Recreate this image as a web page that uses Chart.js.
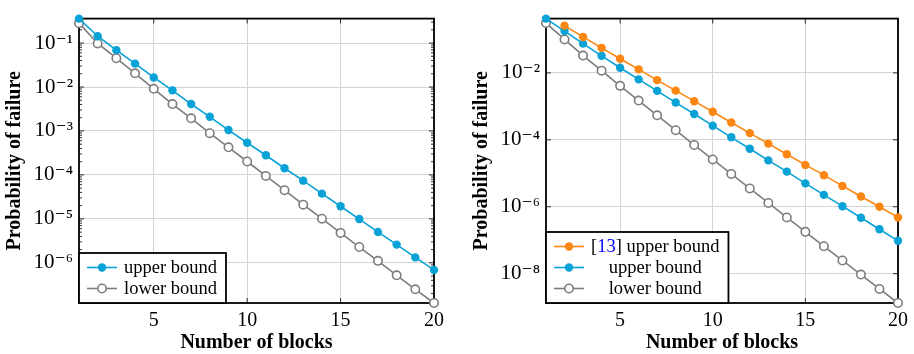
<!DOCTYPE html>
<html>
<head>
<meta charset="utf-8">
<script src="https://cdn.jsdelivr.net/npm/chart.js@4.4.1/dist/chart.umd.min.js"></script>
<style>
  html, body { margin: 0; padding: 0; background: #fff; }
  #wrap { position: relative; width: 914px; height: 354px; }
  .box { position: absolute; top: 0; width: 457px; height: 354px; }
</style>
</head>
<body>
<div id="wrap">
  <div class="box" style="left:0"><canvas id="leftChart"></canvas></div>
  <div class="box" style="left:457px"><canvas id="rightChart"></canvas></div>
</div>
<script>
// number of blocks on the x axis
const blocks = [1, 2, 3, 4, 5, 6, 7, 8, 9, 10, 11, 12, 13, 14, 15, 16, 17, 18, 19, 20];
const xTicks = [5, 10, 15, 20];

// left panel
const leftUpper = [0.36, 0.143, 0.069, 0.034, 0.0165, 0.0084, 0.0041, 0.0021, 0.00105, 5.4e-4,
  2.8e-4, 1.42e-4, 7.4e-5, 3.75e-5, 1.94e-5, 9.9e-6, 5.05e-6, 2.6e-6, 1.33e-6, 6.9e-7];
const leftLower = [0.284, 0.098, 0.0453, 0.0205, 0.0091, 0.0041, 0.00194, 8.9e-4, 4.25e-4, 2.02e-4,
  9.5e-5, 4.5e-5, 2.11e-5, 1.01e-5, 4.8e-6, 2.29e-6, 1.11e-6, 5.2e-7, 2.5e-7, 1.22e-7];
const leftYTicks = [1e-1, 1e-2, 1e-3, 1e-4, 1e-5, 1e-6];

// right panel ([13] has no value for 1 block)
const rightRef13 = [null, 0.259, 0.119, 0.0562, 0.0265, 0.0128, 0.0061, 0.00296, 0.00143, 6.9e-4,
  3.3e-4, 1.59e-4, 7.7e-5, 3.7e-5, 1.78e-5, 8.8e-6, 4.2e-6, 2.03e-6, 1.0e-6, 4.8e-7];
const rightUpper = [0.42, 0.178, 0.075, 0.0324, 0.0143, 0.0064, 0.0029, 0.0013, 5.9e-4, 2.65e-4,
  1.19e-4, 5.4e-5, 2.43e-5, 1.12e-5, 5.0e-6, 2.27e-6, 1.04e-6, 4.7e-7, 2.12e-7, 9.6e-8];
const rightLower = [0.309, 0.1, 0.033, 0.0117, 0.0041, 0.00149, 5.4e-4, 1.94e-4, 7.0e-5, 2.59e-5,
  9.6e-6, 3.53e-6, 1.3e-6, 4.8e-7, 1.78e-7, 6.6e-8, 2.48e-8, 9.4e-9, 3.5e-9, 1.33e-9];
const rightYTicks = [1e-2, 1e-4, 1e-6, 1e-8];

const BLUE = "rgb(8,162,214)";
const ORANGE = "rgb(252,134,18)";
const GRAY = "rgb(125,125,125)";
const FONT = "'Liberation Serif', 'DejaVu Serif', serif";

const SUP = { "-": "\u207B", 0: "\u2070", 1: "\u00B9", 2: "\u00B2", 3: "\u00B3", 4: "\u2074",
  5: "\u2075", 6: "\u2076", 7: "\u2077", 8: "\u2078", 9: "\u2079" };
function powLabel(v) {
  const e = String(Math.round(Math.log10(v)));
  return "10" + e.split("").map((c) => SUP[c]).join("");
}

function series(label, values, color, hollow) {
  return {
    label: label,
    data: blocks.map((b, i) => ({ x: b, y: values[i] })),
    borderColor: color,
    backgroundColor: color,
    borderWidth: 1.6,
    pointRadius: 4.2,
    pointHoverRadius: 4.2,
    pointBackgroundColor: hollow ? "#fff" : color,
    pointBorderColor: color,
    pointBorderWidth: hollow ? 1.6 : 0,
    tension: 0,
    clip: false,
  };
}

// frame + inner tick marks, drawn before the lines
const framePlugin = {
  id: "frame",
  beforeDatasetsDraw(chart, args, opts) {
    const { ctx, chartArea: a } = chart;
    const y = chart.scales.y;
    const x = chart.scales.x;
    ctx.save();
    ctx.strokeStyle = "#000";
    ctx.lineWidth = 0.8;
    ctx.beginPath();
    y.ticks.forEach((t) => {
      const p = y.getPixelForValue(t.value);
      ctx.moveTo(a.left, p); ctx.lineTo(a.left + 5, p);
      ctx.moveTo(a.right, p); ctx.lineTo(a.right - 5, p);
    });
    xTicks.forEach((v) => {
      const p = x.getPixelForValue(v);
      ctx.moveTo(p, a.bottom); ctx.lineTo(p, a.bottom - 5);
      ctx.moveTo(p, a.top); ctx.lineTo(p, a.top + 5);
    });
    if (opts.minor) {
      const lo = Math.floor(Math.log10(y.min));
      const hi = Math.ceil(Math.log10(y.max));
      for (let e = lo; e < hi; e++) {
        for (let m = 2; m <= 9; m++) {
          const v = m * Math.pow(10, e);
          if (v < y.min || v > y.max) continue;
          const p = y.getPixelForValue(v);
          ctx.moveTo(a.left, p); ctx.lineTo(a.left + 3, p);
          ctx.moveTo(a.right, p); ctx.lineTo(a.right - 3, p);
        }
      }
    }
    ctx.stroke();
    ctx.lineWidth = 1.8;
    ctx.strokeRect(a.left, a.top, a.right - a.left, a.bottom - a.top);
    ctx.restore();
  },
};

// pgfplots style legend in the lower left corner
const legendPlugin = {
  id: "boxLegend",
  afterDatasetsDraw(chart) {
    const { ctx, chartArea: a } = chart;
    const sets = chart.data.datasets;
    ctx.save();
    ctx.font = "18.5px " + FONT;
    const widths = sets.map((d) => ctx.measureText(d.label).width);
    const textW = Math.max(...widths);
    const rowH = 21;
    const boxW = 8 + 30 + 7 + textW + 9;
    const boxH = sets.length * rowH + 8;
    const bx = a.left, by = a.bottom - boxH;
    ctx.fillStyle = "#fff";
    ctx.fillRect(bx, by, boxW, boxH);
    ctx.strokeStyle = "#000";
    ctx.lineWidth = 1.8;
    ctx.strokeRect(bx, by, boxW, boxH);
    const textC = bx + 8 + 30 + 7 + textW / 2;
    sets.forEach((d, i) => {
      const cy = by + 4 + rowH * i + rowH / 2;
      ctx.strokeStyle = d.borderColor;
      ctx.lineWidth = d.borderWidth;
      ctx.beginPath();
      ctx.moveTo(bx + 8, cy); ctx.lineTo(bx + 38, cy);
      ctx.stroke();
      ctx.beginPath();
      ctx.arc(bx + 23, cy, d.pointRadius, 0, Math.PI * 2);
      ctx.fillStyle = d.pointBackgroundColor;
      ctx.fill();
      if (d.pointBorderWidth) {
        ctx.lineWidth = d.pointBorderWidth;
        ctx.stroke();
      }
      // citation number in blue, rest black
      ctx.textBaseline = "middle";
      ctx.textAlign = "left";
      let tx = textC - widths[i] / 2;
      const m = d.label.match(/^\[(\d+)\](.*)$/);
      const parts = m ? [["[", "#000"], [m[1], "#0000ff"], ["]" + m[2], "#000"]] : [[d.label, "#000"]];
      parts.forEach(([s, c]) => {
        ctx.fillStyle = c;
        ctx.fillText(s, tx, cy + 1);
        tx += ctx.measureText(s).width;
      });
    });
    ctx.restore();
  },
};

function makeChart(id, datasets, yTicks, cfg) {
  const all = datasets.flatMap((d) => d.data.map((p) => p.y)).filter((v) => v != null);
  return new Chart(document.getElementById(id), {
    type: "line",
    data: { datasets: datasets },
    options: {
      responsive: true,
      maintainAspectRatio: false,
      animation: false,
      events: [],
      layout: { padding: { top: 8, right: cfg.right, left: 0, bottom: 0 } },
      plugins: { legend: { display: false }, tooltip: { enabled: false }, frame: { minor: cfg.minor } },
      scales: {
        x: {
          type: "linear",
          min: 1,
          max: 20,
          afterBuildTicks: (s) => { s.ticks = xTicks.map((v) => ({ value: v })); },
          afterFit: (s) => { s.height = 51; },
          grid: { color: "#d4d4d4", lineWidth: 1, drawTicks: false },
          border: { display: false },
          ticks: { color: "#000", padding: 6, font: { family: FONT, size: 20 }, maxRotation: 0 },
          title: {
            display: true,
            text: "Number of blocks",
            color: "#000",
            font: { family: FONT, size: 20, weight: "bold" },
            padding: { top: 0, bottom: -1 },
          },
        },
        y: {
          type: "logarithmic",
          min: Math.min(...all),
          max: Math.max(...all),
          afterBuildTicks: (s) => { s.ticks = yTicks.map((v) => ({ value: v })); },
          afterFit: (s) => { s.width = cfg.axisW; },
          grid: { color: "#d4d4d4", lineWidth: 1, drawTicks: false },
          border: { display: false },
          ticks: { color: "#000", padding: 6, autoSkip: false, font: { family: FONT, size: 21 }, callback: (v) => powLabel(v) },
          title: {
            display: true,
            text: "Probability of failure",
            color: "#000",
            font: { family: FONT, size: 20, weight: "bold" },
            padding: { top: cfg.titlePad, bottom: 0 },
          },
        },
      },
    },
    plugins: [framePlugin, legendPlugin],
  });
}

makeChart("leftChart", [
  series("upper bound", leftUpper, BLUE, false),
  series("lower bound", leftLower, GRAY, true),
], leftYTicks, { right: 23, axisW: 79, titlePad: 3, minor: true });

makeChart("rightChart", [
  series("[13] upper bound", rightRef13, ORANGE, false),
  series("upper bound", rightUpper, BLUE, false),
  series("lower bound", rightLower, GRAY, true),
], rightYTicks, { right: 13, axisW: 89, titlePad: 13, minor: false });
</script>
</body>
</html>
